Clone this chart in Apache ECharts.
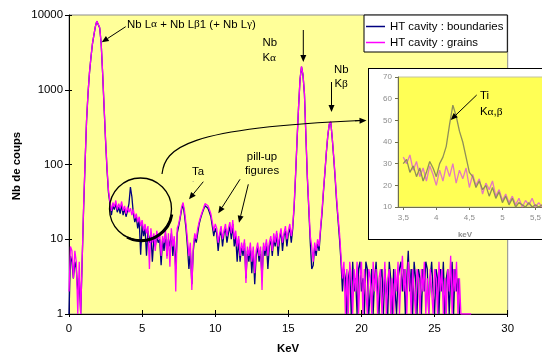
<!DOCTYPE html>
<html>
<head>
<meta charset="utf-8">
<script src="https://cdn.jsdelivr.net/npm/echarts@6/dist/echarts.min.js"></script>
<style>
  html, body { margin: 0; padding: 0; background: #fff; overflow: hidden; }
  #main { position: absolute; left: 0; top: 0; width: 542px; height: 356px; }
  #inset { position: absolute; left: 368px; top: 68px; width: 181px; height: 172px;
           border: 1px solid #000; box-sizing: border-box; background: #fff; }
  #insetChart { position: absolute; left: 0; top: 0; width: 179px; height: 170px; filter: blur(0.6px); }
  #overlay { position: absolute; left: 0; top: 0; width: 542px; height: 356px; pointer-events: none; }
</style>
</head>
<body>
<div id="main"></div>
<div id="inset"><div id="insetChart"></div></div>
<div id="overlay"></div>
<script>
// EDS spectrum, counts per 0.1 keV channel, starting at 0 keV
const KEV_STEP = 0.1;
const grains = [
  2, 8, 7, 3, 7, 5, 1, 5, 1, 1,
  28, 110, 390, 900, 1700, 2700, 4100, 5400, 7000, 8300,
  8800, 6800, 4200, 1700, 600, 220, 90, 45, 32, 24,
  31, 27, 33, 25, 30, 26, 32, 24, 28, 22,
  27, 23, 26, 21, 25, 19, 22, 17, 20, 15,
  18, 13, 16, 12, 15, 4, 14, 9, 12, 7,
  13, 10, 12, 6, 11, 9, 13, 5.5, 12, 4.3,
  14, 8, 11, 2, 14, 16, 20, 27, 31, 24,
  16, 10, 6, 9, 2.1, 8, 12, 10, 14, 17,
  20, 23, 26, 30, 31, 28, 25, 22, 17, 13,
  16, 14, 9, 12, 15, 10, 13, 16, 11, 14,
  17, 12, 18, 10, 13, 8, 11, 6, 9, 7,
  10, 2.6, 8, 6, 9, 5, 8, 3.5, 7, 9,
  6, 8, 2.1, 9, 7, 10, 6, 9, 11, 7,
  12, 9, 13, 8, 11, 14, 9, 12, 15, 10,
  13, 16, 11, 15, 30, 80, 230, 600, 1400, 2050,
  1600, 900, 250, 70, 27, 11, 8, 5, 9, 7,
  10, 8, 14, 24, 45, 80, 150, 250, 350, 375,
  230, 130, 70, 35, 20, 12, 6, 3, 5, 1,
  4, 1, 5, 3, 1, 4, 2, 5, 1, 3,
  5, 1, 4, 2, 1, 4, 3, 1, 5, 2,
  4, 1, 3, 4, 1, 2, 5, 1, 3, 4,
  1, 3, 1, 4, 2, 5, 1, 3, 6, 2,
  4, 1, 5, 3, 1, 4, 2, 1, 4, 3,
  1, 4, 2, 5, 1, 3, 1, 4, 2, 1,
  4, 3, 1, 5, 2, 4, 1, 3, 1, 4,
  2, 6, 1, 4, 2, 5, 1, 3, 1, 1,
  1, 1, 1, 1, 1, 1
];
const boundaries = [
  1, 6, 5, 3, 5, 4, 2, 3, 1, 1,
  26, 105, 380, 880, 1680, 2700, 4050, 5350, 6950, 8250,
  8700, 6700, 4150, 1650, 580, 210, 85, 42, 30, 21,
  28, 25, 30, 23, 27, 22, 29, 21, 26, 20,
  24, 30, 50, 37, 22, 17, 20, 14, 18, 6.2,
  16, 11, 14, 6, 13, 9, 12, 5, 10, 8,
  11, 9, 10, 4.5, 10, 7, 12, 6, 10, 8,
  12, 6, 10, 4, 12, 15, 19, 25, 29, 21,
  14, 8, 4, 7, 2.5, 7, 11, 9, 12, 16,
  19, 22, 25, 28, 29, 26, 23, 20, 15, 11,
  14, 12, 7, 11, 13, 8, 12, 14, 9, 12,
  15, 10, 16, 8, 11, 5, 10, 5, 8, 6,
  9, 3, 7, 5, 8, 3.5, 7, 2.5, 6, 8,
  5, 7, 3, 8, 6, 9, 4, 8, 10, 6,
  10, 8, 12, 6, 10, 13, 7, 11, 13, 8,
  12, 14, 9, 14, 28, 76, 220, 590, 1380, 2030,
  1580, 880, 240, 66, 25, 9, 4, 4.5, 8, 6,
  9, 7, 13, 22, 43, 78, 145, 245, 345, 370,
  225, 125, 66, 32, 18, 10, 5, 2, 4, 3,
  1, 3, 4, 1, 5, 2, 3, 1, 4, 5,
  2, 3, 1, 5, 4, 1, 2, 4, 1, 3,
  5, 2, 1, 3, 4, 1, 4, 2, 1, 5,
  3, 1, 4, 2, 1, 3, 4, 5, 2, 4,
  1, 3, 7, 2, 4, 1, 5, 3, 1, 4,
  3, 1, 4, 2, 5, 4, 1, 3, 5, 2,
  1, 4, 3, 1, 4, 2, 5, 1, 3, 4,
  1, 3, 5, 1, 4, 2, 3, 1
];

// Zoom on the Ti K line, 0.05 keV channels from 3.50 keV
const INSET_START = 3.5;
const INSET_STEP = 0.05;
const insetGrains = [
  33, 30, 34, 27, 31, 24, 28, 22, 29, 25,
  20, 27, 22, 29, 24, 30, 21, 27, 23, 28,
  19, 25, 20, 23, 16, 21, 18, 22, 15, 18,
  13, 16, 12, 15, 11, 14, 10, 13, 11, 14,
  10, 12, 10
];
const insetBoundaries = [
  30, 32, 26, 29, 24, 28, 22, 26, 31, 28,
  24, 30, 33, 38, 48, 57, 52, 45, 40, 33,
  26, 24, 19, 22, 18, 20, 15, 19, 14, 17,
  12, 15, 11, 14, 10, 12, 11, 10, 12, 10,
  11, 10, 11
];
const insetXTicks = [3.5, 4, 4.5, 5, 5.5];

const seriesNames = ['HT cavity : boundaries', 'HT cavity : grains'];
const X_MIN = 0, X_MAX = 30, X_INTERVAL = 5;
const Y_MIN = 1, Y_MAX = 10000;

const FONT = 'Liberation Sans, Arial, sans-serif';
const FS = 11.4;

function toPairs(arr, start, step) {
  return arr.map((v, i) => [+(start + i * step).toFixed(3), v]);
}

function arrow(x1, y1, x2, y2, head) {
  const hl = head || 7, hw = 3;
  const dx = x2 - x1, dy = y2 - y1, L = Math.hypot(dx, dy);
  const ux = dx / L, uy = dy / L;
  const bx = x2 - ux * hl, by = y2 - uy * hl;
  return [
    { type: 'line', z: 100, shape: { x1: x1, y1: y1, x2: bx, y2: by },
      style: { stroke: '#000', lineWidth: 1 } },
    { type: 'polygon', z: 100,
      shape: { points: [[x2, y2], [bx - uy * hw, by + ux * hw], [bx + uy * hw, by - ux * hw]] },
      style: { fill: '#000' } }
  ];
}

function label(x, y, text, extra) {
  return Object.assign({
    type: 'text', z: 100, x: x, y: y,
    style: { text: text, fontFamily: FONT, fontSize: FS, fill: '#000', verticalAlign: 'middle' }
  }, extra || {});
}

const greekRich = {
  t: { fontFamily: FONT, fontSize: FS, fill: '#000' },
  g: { fontFamily: 'Liberation Serif, DejaVu Serif, serif', fontSize: FS, fill: '#000' }
};

const main = echarts.init(document.getElementById('main'), null, { renderer: 'canvas' });
main.setOption({
  animation: false,
  backgroundColor: '#fff',
  grid: { left: 69, right: 34.3, top: 15, bottom: 42, show: true,
          backgroundColor: '#FFFF99', borderColor: '#8c8c8c', borderWidth: 1 },
  legend: {
    data: seriesNames, left: 364, top: 15, orient: 'vertical',
    backgroundColor: '#fff', borderColor: '#000', borderWidth: 1,
    padding: [5, 4, 3, 2], itemGap: 3, itemWidth: 19, itemHeight: 1.5, icon: 'rect',
    textStyle: { fontFamily: FONT, fontSize: FS, color: '#000', lineHeight: 13 }
  },
  xAxis: [
    { type: 'value', min: X_MIN, max: X_MAX, interval: X_INTERVAL,
      axisLine: { lineStyle: { color: '#000', width: 1 } },
      axisTick: { length: 3, lineStyle: { color: '#000' } },
      axisLabel: { margin: 9, fontFamily: FONT, fontSize: FS, color: '#000' },
      splitLine: { show: false } },
    { type: 'value', min: X_MIN, max: X_MAX, interval: X_INTERVAL, position: 'bottom',
      axisLine: { show: false }, axisTick: { inside: true, length: 4, lineStyle: { color: '#000' } },
      axisLabel: { show: false }, splitLine: { show: false } }
  ],
  yAxis: [
    { type: 'log', logBase: 10, min: Y_MIN, max: Y_MAX,
      axisLine: { show: true, lineStyle: { color: '#000', width: 1 } },
      axisTick: { show: true, length: 4, lineStyle: { color: '#000' } },
      axisLabel: { margin: 6, fontFamily: FONT, fontSize: FS, color: '#000',
                   formatter: v => String(Math.round(v)) },
      splitLine: { show: false }, minorTick: { show: false } },
    { type: 'log', logBase: 10, min: Y_MIN, max: Y_MAX, position: 'left',
      axisLine: { show: false },
      axisTick: { show: true, inside: true, length: 3, lineStyle: { color: '#000' } },
      axisLabel: { show: false }, splitLine: { show: false } }
  ],
  series: [
    { name: seriesNames[0], type: 'line', data: toPairs(boundaries, 0, KEV_STEP),
      showSymbol: false, symbol: 'none', color: '#000080',
      lineStyle: { color: '#000080', width: 1.3 }, z: 2 },
    { name: seriesNames[1], type: 'line', data: toPairs(grains, 0, KEV_STEP),
      showSymbol: false, symbol: 'none', color: '#FF00FF',
      lineStyle: { color: '#FF00FF', width: 1.3 }, z: 3 }
  ],
  graphic: [
    // axis titles
    { type: 'text', z: 100, x: 17, y: 166, rotation: Math.PI / 2,
      style: { text: 'Nb de coups', fontFamily: FONT, fontSize: FS, fontWeight: 'bold',
               fill: '#000', align: 'center', verticalAlign: 'middle' } },
    { type: 'text', z: 100, x: 288, y: 349,
      style: { text: 'KeV', fontFamily: FONT, fontSize: FS, fontWeight: 'bold',
               fill: '#000', align: 'center', verticalAlign: 'middle' } },
    // line identifications
    { type: 'text', z: 100, x: 127, y: 24.5,
      style: { text: '{t|Nb L}{g|α}{t| + Nb L}{g|β}{t|1 (+ Nb L}{g|γ}{t|)}',
               rich: greekRich, verticalAlign: 'middle' } },
    ...arrow(125.7, 26.7, 101.7, 42.3),
    label(262.5, 43, 'Nb'),
    { type: 'text', z: 100, x: 262.5, y: 58,
      style: { text: '{t|K}{g|α}', rich: greekRich, verticalAlign: 'middle' } },
    ...arrow(303.3, 30, 303.3, 62),
    label(334, 69.5, 'Nb'),
    { type: 'text', z: 100, x: 334.5, y: 84,
      style: { text: '{t|K}{g|β}', rich: greekRich, verticalAlign: 'middle' } },
    ...arrow(331.5, 82, 331.5, 112),
    label(192, 172, 'Ta'),
    label(192, 180, '.', { style: { text: '.', fontFamily: FONT, fontSize: 8, fill: '#777', verticalAlign: 'middle' } }),
    ...arrow(203.3, 181.7, 189, 199.3),
    label(262, 157, 'pill-up', { style: { text: 'pill-up', fontFamily: FONT, fontSize: FS, fill: '#000', align: 'center', verticalAlign: 'middle' } }),
    label(262, 170.5, 'figures', { style: { text: 'figures', fontFamily: FONT, fontSize: FS, fill: '#000', align: 'center', verticalAlign: 'middle' } }),
    ...arrow(240, 179.3, 218.3, 213.3),
    ...arrow(248.3, 184.3, 239, 222.7),
    // circled Ti region and link to the zoom panel
    { type: 'circle', z: 100, shape: { cx: 140.5, cy: 209, r: 31 },
      style: { fill: null, stroke: '#000', lineWidth: 1.3 } },
    { type: 'arc', z: 100, shape: { cx: 141.3, cy: 209.8, r: 31, startAngle: 0.15, endAngle: 2.05 },
      style: { fill: null, stroke: '#000', lineWidth: 2.6 } },
    { type: 'bezierCurve', z: 100,
      shape: { x1: 162, y1: 174, cpx1: 165, cpy1: 148, cpx2: 185, cpy2: 128, x2: 360, y2: 120.5 },
      style: { fill: null, stroke: '#000', lineWidth: 1.2 } },
    ...arrow(355, 120.8, 366.5, 120.4)
  ]
});

const inset = echarts.init(document.getElementById('insetChart'), null, { renderer: 'canvas' });
inset.setOption({
  animation: false,
  backgroundColor: '#fff',
  grid: { left: 29, right: 0, top: 8, bottom: 32, show: true,
          backgroundColor: '#FFFF55', borderColor: '#c4c4a0', borderWidth: 1 },
  xAxis: { type: 'value', min: 3.42, max: 5.69,
    axisLine: { lineStyle: { color: '#6e6e50' } },
    axisTick: { customValues: insetXTicks, length: 3, lineStyle: { color: '#6e6e50' } },
    axisLabel: { customValues: insetXTicks, margin: 7, fontFamily: FONT, fontSize: 8, color: '#8c8c8c',
                 formatter: v => String(v).replace('.', ',') },
    splitLine: { show: false } },
  yAxis: { type: 'value', min: 10, max: 70, interval: 10,
    axisLine: { show: true, lineStyle: { color: '#6e6e50' } },
    axisTick: { show: true, length: 3, lineStyle: { color: '#6e6e50' } },
    axisLabel: { margin: 6, fontFamily: FONT, fontSize: 8, color: '#8c8c8c' },
    splitLine: { show: false } },
  series: [
    { type: 'line', data: toPairs(insetBoundaries, INSET_START, INSET_STEP), showSymbol: false,
      lineStyle: { color: '#8f8f58', width: 1.3 }, z: 3 },
    { type: 'line', data: toPairs(insetGrains, INSET_START, INSET_STEP), showSymbol: false,
      lineStyle: { color: '#e478c0', width: 1.3 }, z: 2 }
  ],
  graphic: [
    { type: 'text', x: 96, y: 166, style: { text: 'keV', fontFamily: FONT, fontSize: 8,
      fontWeight: 'bold', fill: '#8c8c8c', align: 'center', verticalAlign: 'middle' } }
  ]
});

const overlay = echarts.init(document.getElementById('overlay'), null, { renderer: 'canvas' });
overlay.setOption({
  animation: false,
  graphic: [
    label(480, 95.5, 'Ti'),
    { type: 'text', z: 100, x: 480, y: 112,
      style: { text: '{t|K}{g|α}{t|,}{g|β}', rich: greekRich, verticalAlign: 'middle' } },
    ...arrow(476.7, 95, 450.7, 120)
  ]
});
</script>
</body>
</html>
